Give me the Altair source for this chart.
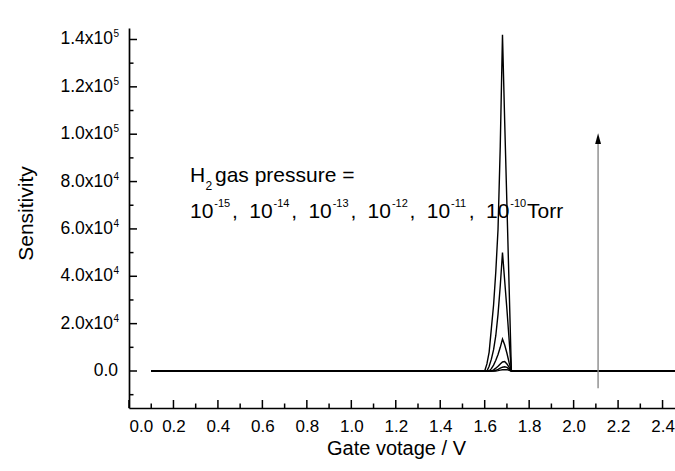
import altair as alt
import pandas as pd

# ---------------- data ----------------
volts = [0.10, 1.59, 1.60, 1.61, 1.62, 1.63, 1.64, 1.65, 1.66, 1.67, 1.68,
         1.69, 1.70, 1.71, 1.72, 2.46]
pressures = ["1e-15", "1e-14", "1e-13", "1e-12", "1e-11", "1e-10"]
s_m15 = [0, 0, 0, 0, 0, 0, 0, 0, 150, 350, 500, 600, 550, 300, 0, 0]
s_m14 = [0, 0, 0, 0, 0, 0, 0, 300, 700, 1200, 1600, 1800, 1500, 800, 0, 0]
s_m13 = [0, 0, 0, 0, 0, 0, 500, 1200, 2000, 3000, 3800, 4000, 3000, 1500, 0, 0]
s_m12 = [0, 0, 0, 0, 0, 1000, 2500, 4500, 7000, 10000, 13500, 11000, 7500, 3500, 0, 0]
s_m11 = [0, 0, 0, 0, 2000, 5000, 9000, 15000, 24000, 36000, 50000, 38000, 26000, 13000, 0, 0]
s_m10 = [0, 0, 0, 3000, 8000, 18000, 28000, 42000, 60000, 95000, 142000, 105000, 70000, 35000, 0, 0]
series = [s_m15, s_m14, s_m13, s_m12, s_m11, s_m10]

x_major = [0.0, 0.2, 0.4, 0.6, 0.8, 1.0, 1.2, 1.4, 1.6, 1.8, 2.0, 2.2, 2.4]
x_minor = [0.1, 0.3, 0.5, 0.7, 0.9, 1.1, 1.3, 1.5, 1.7, 1.9, 2.1, 2.3]
y_major = [20000, 40000, 60000, 80000, 100000, 120000, 140000]
y_minor = [-10000, 10000, 30000, 50000, 70000, 90000, 110000, 130000]
y_base_labels = ["2.0x10", "4.0x10", "6.0x10", "8.0x10", "1.0x10", "1.2x10", "1.4x10"]
y_exp_labels = ["4", "4", "4", "4", "5", "5", "5"]
y_zero_label = ["0.0"]

arrow_x = [2.11]
arrow_bottom = [-7300]
arrow_top = [96000]
arrow_head = [98100]

exponents = ["-15", "-14", "-13", "-12", "-11", "-10"]

# ---------------- layout ----------------
W, H = 546, 380
PADL, PADT = 129, 28
XMAX = 2.456
YMIN, YMAX = -15625, 144850
FONT = "Liberation Sans"

xs = alt.Scale(domain=[0, XMAX], nice=False, zero=False)
ys = alt.Scale(domain=[YMIN, YMAX], nice=False, zero=False)

rows = []
for lab, vals in zip(pressures, series):
    for v, s in zip(volts, vals):
        rows.append({"p": lab, "V": v, "S": s})
df = pd.DataFrame(rows)

x_axis = alt.Axis(values=x_major, format=".1f", ticks=False, labelPadding=10,
                  labelFontSize=17, labelFont=FONT, labelColor="black",
                  domainColor="black", domainWidth=1.7, grid=False,
                  title="Gate votage / V", titleFontSize=20, titleFont=FONT,
                  titleFontWeight="normal", titleColor="black",
                  titleX=267, titleY=46, titleAlign="center",
                  titleBaseline="alphabetic")
y_axis = alt.Axis(labels=False, ticks=False, domainColor="black", domainWidth=1.7,
                  grid=False, title="Sensitivity", titleFontSize=21, titleFont=FONT,
                  titleFontWeight="normal", titleColor="black", titleX=-97,
                  titleY=185, titleBaseline="alphabetic", titleAngle=270,
                  titleAlign="center")


def X(field):
    return alt.X(field, scale=xs, axis=x_axis)


def Y(field):
    return alt.Y(field, scale=ys, axis=y_axis)


curves = alt.Chart(df).mark_line(color="black", strokeWidth=1.4, clip=True).encode(
    x=X("V:Q"), y=Y("S:Q"), detail="p:N",
)

# inward ticks
xt_major = alt.Chart(pd.DataFrame({"V": x_major})).mark_rule(color="black", strokeWidth=1.5).encode(
    x=X("V:Q"), y=alt.value(H), y2=alt.value(H - 8))
xt_minor = alt.Chart(pd.DataFrame({"V": x_minor})).mark_rule(color="black", strokeWidth=1.5).encode(
    x=X("V:Q"), y=alt.value(H), y2=alt.value(H - 4.5))
yt_major = alt.Chart(pd.DataFrame({"S": [0] + y_major})).mark_rule(color="black", strokeWidth=1.5).encode(
    y=Y("S:Q"), x=alt.value(0), x2=alt.value(8))
yt_minor = alt.Chart(pd.DataFrame({"S": y_minor})).mark_rule(color="black", strokeWidth=1.5).encode(
    y=Y("S:Q"), x=alt.value(0), x2=alt.value(4.5))

# y tick labels with superscripts
ydf = pd.DataFrame({"S": y_major, "base": y_base_labels, "exp": y_exp_labels})
ylab_base = alt.Chart(ydf).mark_text(align="right", baseline="middle", fontSize=17.5,
                                     font=FONT, color="black").encode(
    y=Y("S:Q"), x=alt.value(-16), text="base:N")
ylab_exp = alt.Chart(ydf).mark_text(align="left", baseline="alphabetic", fontSize=10,
                                    font=FONT, color="black", dy=-2).encode(
    y=Y("S:Q"), x=alt.value(-15.5), text="exp:N")
ylab_zero = alt.Chart(pd.DataFrame({"S": [0], "t": y_zero_label})).mark_text(
    align="right", baseline="middle", fontSize=17.5, font=FONT, color="black").encode(
    y=Y("S:Q"), x=alt.value(-11), text="t:N")

# arrow
adf = pd.DataFrame({"V": arrow_x, "y0": arrow_bottom, "y1": arrow_top, "yh": arrow_head})
arrow_line = alt.Chart(adf).mark_rule(color="#8a8a8a", strokeWidth=1.4).encode(
    x=X("V:Q"), y=Y("y0:Q"), y2="y1:Q")
arrow_tip = alt.Chart(adf).mark_point(shape="M0,-1L0.55,1L-0.55,1Z", size=114, filled=True,
                                      color="black", opacity=1).encode(
    x=X("V:Q"), y=Y("yh:Q"))

# annotation text pieces (pixel positions in plot coordinates)
pieces = []


def piece(t, ax, ay, fs):
    pieces.append({"t": t, "px": ax - PADL, "py": ay - PADT, "fs": fs})


piece("H", 190, 181.7, 21)
piece("2", 205.5, 190, 12)
piece("gas pressure =", 215, 181.7, 21)
for i, e in enumerate(exponents):
    x0 = 190 + 59.2 * i
    piece("10", x0, 218.3, 21)
    piece(e, x0 + 24.3, 207.3, 11)
    if i < len(exponents) - 1:
        piece(",", x0 + 42, 218.3, 21)
piece("Torr", 527, 218.3, 21)
pdf = pd.DataFrame(pieces)

annot = alt.Chart(pdf).mark_text(align="left", baseline="alphabetic", font=FONT,
                                  color="black").encode(
    x=alt.X("px:Q", scale=None),
    y=alt.Y("py:Q", scale=None),
    size=alt.Size("fs:Q", scale=None, legend=None),
    text="t:N",
)

chart = alt.layer(
    curves, annot, arrow_line, arrow_tip, xt_major, xt_minor, yt_major, yt_minor,
    ylab_base, ylab_exp, ylab_zero,
).properties(
    width=W, height=H,
    padding={"left": PADL, "top": PADT, "right": 0, "bottom": 471 - PADT - H},
    autosize=alt.AutoSizeParams(type="none"),
    background="white",
).configure_view(stroke=None)

chart.save("out.html", embed_options={"renderer": "svg", "actions": False})
